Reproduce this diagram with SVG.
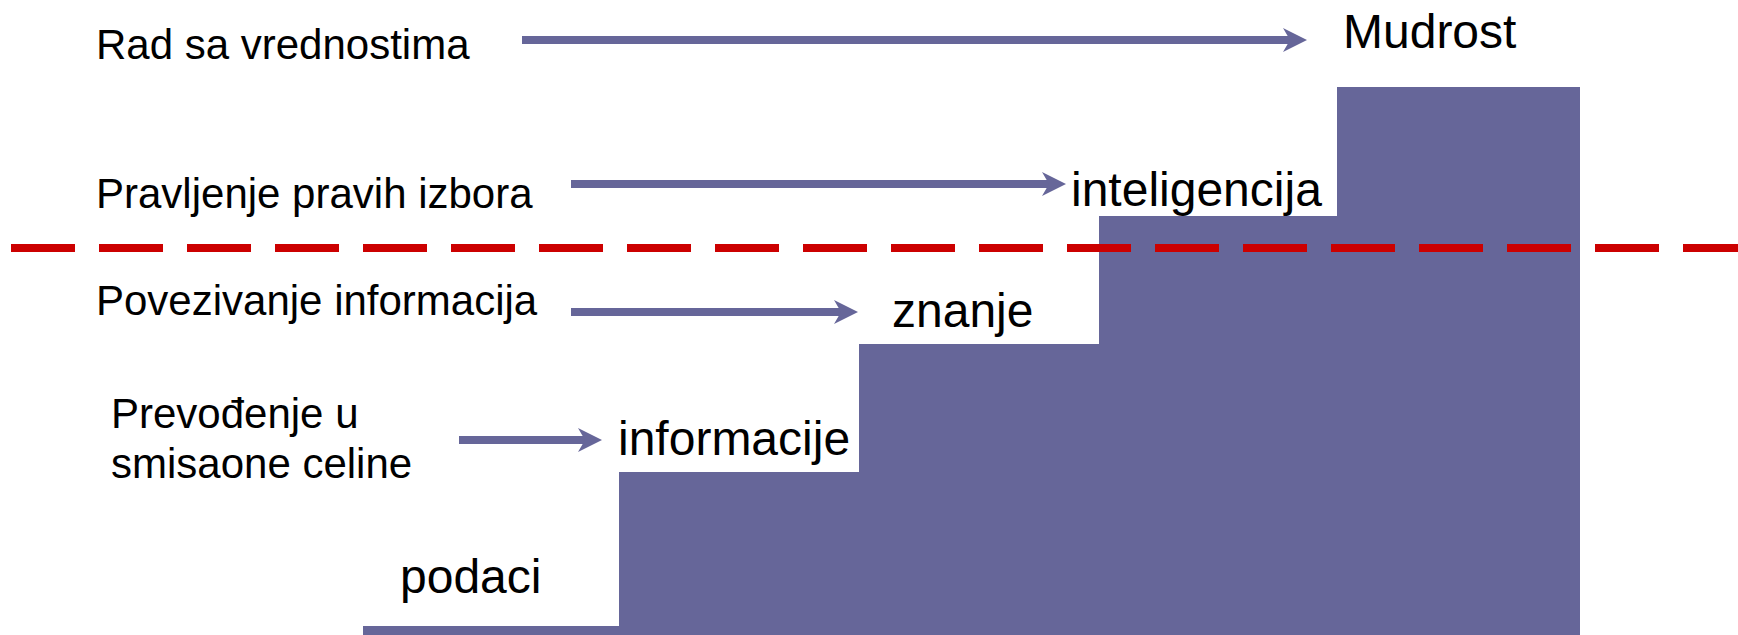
<svg xmlns="http://www.w3.org/2000/svg" width="1738" height="635" viewBox="0 0 1738 635">
  <style>
    .step { fill: #666699; }
    .lbl { font-family: "Liberation Sans", Arial, sans-serif; font-size: 42px; fill: #000; }
    .big { font-family: "Liberation Sans", Arial, sans-serif; font-size: 48px; fill: #000; }
    .arrow { stroke: #666699; stroke-width: 8; fill: none; marker-end: url(#head); }
    .divider { stroke: #CC0000; stroke-width: 8; stroke-dasharray: 64 24; fill: none; }
  </style>
  <defs>
    <marker id="head" markerUnits="userSpaceOnUse" markerWidth="24" markerHeight="24" viewBox="-24 -12 24 24" refX="-17" refY="0" orient="auto">
      <path d="M0,0 L-24,-12 L-17,0 L-24,12 Z" fill="#666699"/>
    </marker>
  </defs>
  <rect width="1738" height="635" fill="#ffffff"/>

  <g id="step-podaci">
    <rect class="step" x="363" y="626" width="256" height="9"/>
    <text class="big" x="400" y="593">podaci</text>
  </g>
  <g id="step-informacije">
    <rect class="step" x="619" y="472" width="240" height="163"/>
    <text class="big" x="618" y="455">informacije</text>
  </g>
  <g id="step-znanje">
    <rect class="step" x="859" y="344" width="240" height="291"/>
    <text class="big" x="892" y="327">znanje</text>
  </g>
  <g id="step-inteligencija">
    <rect class="step" x="1099" y="216" width="238" height="419"/>
    <text class="big" x="1071" y="206">inteligencija</text>
  </g>
  <g id="step-mudrost">
    <rect class="step" x="1337" y="87" width="243" height="548"/>
    <text class="big" x="1343" y="48">Mudrost</text>
  </g>

  <g id="label-rad">
    <text class="lbl" x="96" y="59">Rad sa vrednostima</text>
  </g>
  <g id="label-pravljenje">
    <text class="lbl" x="96" y="208">Pravljenje pravih izbora</text>
  </g>
  <g id="label-povezivanje">
    <text class="lbl" x="96" y="315">Povezivanje informacija</text>
  </g>
  <g id="label-prevodjenje">
    <text class="lbl" x="111" y="428">Prevođenje u</text>
    <text class="lbl" x="111" y="478">smisaone celine</text>
  </g>

  <line id="divider" class="divider" x1="11" y1="248" x2="1738" y2="248"/>

  <g id="connectors">
    <line class="arrow" x1="522" y1="40" x2="1290" y2="40"/>
    <line class="arrow" x1="571" y1="184" x2="1049" y2="184"/>
    <line class="arrow" x1="571" y1="312" x2="841" y2="312"/>
    <line class="arrow" x1="459" y1="440" x2="585" y2="440"/>
  </g>
</svg>
